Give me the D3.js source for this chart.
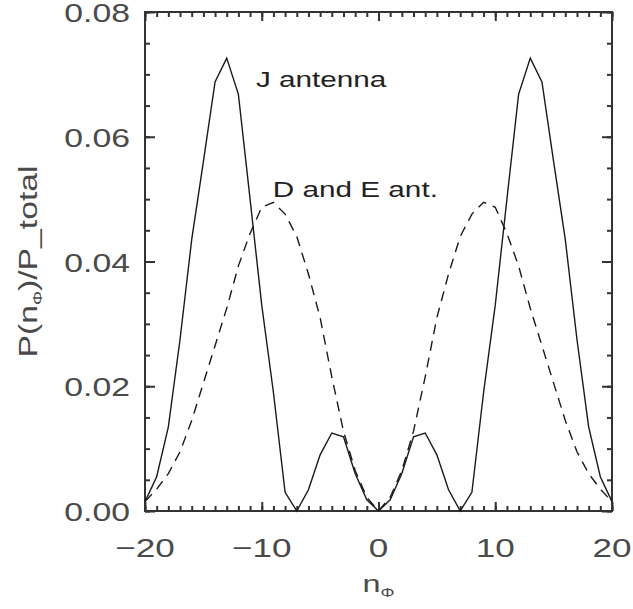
<!DOCTYPE html>
<html lang="en">
<head>
<meta charset="utf-8">
<style>
body { margin: 0; background: #fff; }
svg { font-family: "Liberation Sans", Arial, sans-serif; }
</style>
<script src="https://d3js.org/d3.v7.min.js"></script>
</head>
<body>
<svg width="633" height="609"></svg>
<script>

// n_phi values (integer mode numbers)
var nPhi = [-20,-19,-18,-17,-16,-15,-14,-13,-12,-11,-10,-9,-8,-7,-6,-5,-4,-3,-2,-1,0,
            1,2,3,4,5,6,7,8,9,10,11,12,13,14,15,16,17,18,19,20];

// J antenna spectrum (solid)
var jAntenna = [0.0015,0.0055,0.0135,0.0275,0.0435,0.0560,0.0688,0.0726,0.0668,0.0500,0.0330,
                0.0190,0.0030,0.0000,0.0034,0.0090,0.0125,0.0119,0.0060,0.0018,0.0000,
                0.0018,0.0060,0.0119,0.0125,0.0090,0.0034,0.0000,0.0030,0.0190,0.0330,
                0.0500,0.0668,0.0726,0.0688,0.0560,0.0435,0.0275,0.0135,0.0055,0.0015];

// D and E antenna spectrum (dashed)
var deAntenna = [0.0015,0.0035,0.0060,0.0095,0.0145,0.0205,0.0265,0.0325,0.0393,0.0445,0.0487,
                 0.0495,0.0476,0.0440,0.0380,0.0310,0.0215,0.0128,0.0065,0.0022,0.0000,
                 0.0022,0.0065,0.0128,0.0215,0.0310,0.0380,0.0440,0.0476,0.0495,0.0487,
                 0.0445,0.0393,0.0325,0.0265,0.0205,0.0145,0.0095,0.0060,0.0035,0.0015];

var xTicks = [-20,-10,0,10,20];
var yTicks = [0.00,0.02,0.04,0.06,0.08];

var svg = d3.select("svg"),
    margin = {top: 12, right: 21, bottom: 98, left: 145},
    width = +svg.attr("width") - margin.left - margin.right,
    height = +svg.attr("height") - margin.top - margin.bottom;

var stretch = 1.35; // glyphs in the original are wide

var x = d3.scaleLinear().domain([-20, 20]).range([margin.left, margin.left + width]);
var y = d3.scaleLinear().domain([0, 0.08]).range([margin.top + height, margin.top]);

var axisColor = "#333", textColor = "#4a4a4a";
var x0 = x(-20), x1 = x(20), yb = y(0), yt0 = y(0.08);

// frame
svg.append("rect")
  .attr("x", x0).attr("y", yt0)
  .attr("width", x1 - x0).attr("height", yb - yt0)
  .attr("fill", "none").attr("stroke", axisColor).attr("stroke-width", 2);

// inward ticks on all four sides (minor + major)
function ticks(axis, pos, values, size) {
  svg.append("g").attr("class", "ax")
    .attr("transform", pos)
    .call(axis.tickValues(values).tickSize(-size).tickFormat(""));
}
ticks(d3.axisBottom(x), "translate(0," + yb + ")", x.ticks(40), 5);
ticks(d3.axisBottom(x), "translate(0," + yb + ")", xTicks, 9);
ticks(d3.axisTop(x), "translate(0," + yt0 + ")", x.ticks(40), 5);
ticks(d3.axisTop(x), "translate(0," + yt0 + ")", xTicks, 9);
ticks(d3.axisLeft(y), "translate(" + x0 + ",0)", y.ticks(16), 5);
ticks(d3.axisLeft(y), "translate(" + x0 + ",0)", yTicks, 10);
ticks(d3.axisRight(y), "translate(" + x1 + ",0)", y.ticks(16), 5);
ticks(d3.axisRight(y), "translate(" + x1 + ",0)", yTicks, 10);

svg.selectAll(".ax .domain").remove();
svg.selectAll(".ax line").attr("stroke", axisColor).attr("stroke-width", 2);

// tick labels
var fmtX = d3.format("d"), fmtY = d3.format(".2f");

svg.selectAll(".xlab").data(xTicks).enter().append("text")
  .attr("class", "xlab")
  .attr("transform", function(d) { return "translate(" + x(d) + "," + (yb + 46) + ") scale(" + stretch + ",1)"; })
  .attr("text-anchor", "middle")
  .attr("font-size", 26).attr("fill", textColor)
  .text(function(d) { return fmtX(d); });

svg.selectAll(".ylab").data(yTicks).enter().append("text")
  .attr("class", "ylab")
  .attr("transform", function(d) { return "translate(" + (x0 - 15) + "," + (y(d) + 10) + ") scale(" + stretch + ",1)"; })
  .attr("text-anchor", "end")
  .attr("font-size", 25).attr("fill", textColor)
  .text(function(d) { return fmtY(d); });

// axis titles
var xt = svg.append("text")
  .attr("transform", "translate(" + x(0) + "," + 592 + ") scale(" + stretch + ",1)")
  .attr("text-anchor", "middle")
  .attr("font-size", 24).attr("fill", textColor);
xt.append("tspan").text("n");
xt.append("tspan").attr("font-size", 13).attr("dy", 5).text("\u03A6");

var yt = svg.append("text")
  .attr("transform", "translate(37," + (margin.top + height / 2) + ") rotate(-90) scale(" + stretch + ",1)")
  .attr("text-anchor", "middle")
  .attr("font-size", 25).attr("fill", textColor);
yt.append("tspan").text("P(n");
yt.append("tspan").attr("font-size", 13).attr("dy", 5).text("\u03A6");
yt.append("tspan").attr("dy", -5).text(")/P_total");

// curves
var line = d3.line()
  .x(function(d) { return x(d[0]); })
  .y(function(d) { return y(d[1]); });

svg.append("path")
  .datum(d3.zip(nPhi, jAntenna))
  .attr("fill", "none").attr("stroke", "#1a1a1a").attr("stroke-width", 1.4)
  .attr("d", line);

svg.append("path")
  .datum(d3.zip(nPhi, deAntenna))
  .attr("fill", "none").attr("stroke", "#1a1a1a").attr("stroke-width", 1.4)
  .attr("stroke-dasharray", "10,7")
  .attr("d", line);

// annotations
svg.append("text")
  .attr("transform", "translate(" + x(-10.5) + "," + y(0.068) + ") scale(" + stretch + ",1)")
  .attr("font-size", 22).attr("fill", "#222")
  .text("J antenna");

svg.append("text")
  .attr("transform", "translate(" + x(-9.05) + "," + y(0.0503) + ") scale(" + stretch + ",1)")
  .attr("font-size", 22).attr("fill", "#222")
  .text("D and E ant.");

</script>
</body>
</html>
